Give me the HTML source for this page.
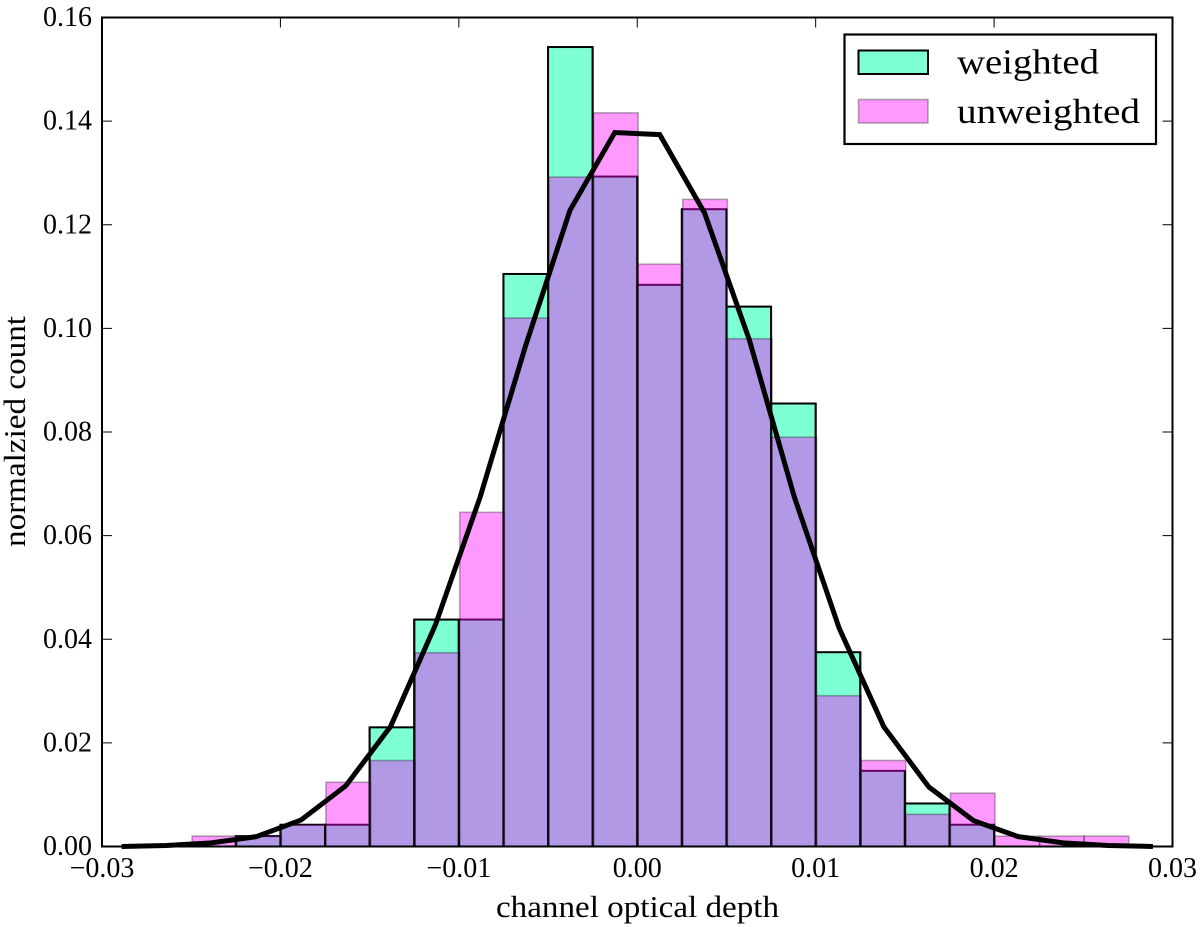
<!DOCTYPE html>
<html>
<head>
<meta charset="utf-8">
<title>Channel optical depth histogram</title>
<style>
html,body{margin:0;padding:0;background:#fff;}
svg{display:block;}
text{font-family:"Liberation Serif",serif;fill:#000;}
</style>
</head>
<body>
<svg id="chart" xmlns="http://www.w3.org/2000/svg" width="1200" height="927" viewBox="0 0 1200 927">
  <rect x="0" y="0" width="1200" height="927" fill="#fff"/>
  <g id="bars-weighted"></g>
  <g id="bars-unweighted"></g>
  <g id="bar-dividers"></g>
  <path id="curve" fill="none" stroke="#000" stroke-width="5" stroke-linejoin="miter"/>
  <g id="ticks"></g>
  <rect x="102" y="17.5" width="1070.5" height="829" fill="none" stroke="#000" stroke-width="2"/>
  <g id="tick-labels"></g>
  <text x="496" y="917" font-size="31" textLength="283" lengthAdjust="spacingAndGlyphs">channel optical depth</text>
  <text transform="translate(25,547) rotate(-90)" x="0" y="0" font-size="31" textLength="231" lengthAdjust="spacingAndGlyphs">normalzied count</text>
  <g>
    <rect x="844.5" y="34.5" width="311.5" height="109.5" fill="#fff" stroke="#000" stroke-width="2.2"/>
    <rect x="858.5" y="50.5" width="69.5" height="23.5" fill="#7fffd4" stroke="#000" stroke-width="2"/>
    <text x="957" y="73.5" font-size="35" textLength="142" lengthAdjust="spacingAndGlyphs">weighted</text>
    <rect x="858.5" y="99.5" width="69.5" height="23.5" fill="#ff00ff" fill-opacity="0.4" stroke="#000" stroke-opacity="0.3" stroke-width="1.6"/>
    <text x="957" y="123" font-size="35" textLength="183" lengthAdjust="spacingAndGlyphs">unweighted</text>
  </g>
</svg>
<script>
const weightedStart = -0.0225;
const unweightedStart = -0.02495;
const binWidth = 0.0025;
const weightedValues = [0.0020,0.0042,0.0042,0.0230,0.0438,0.0438,0.1105,0.1543,0.1293,0.1084,0.1230,0.1042,0.0855,0.0375,0.0146,0.0083,0.0042];
const unweightedValues = [0.0020,0.0020,0.0042,0.0124,0.0166,0.0374,0.0645,0.1020,0.1292,0.1416,0.1124,0.1249,0.0980,0.0790,0.0291,0.0166,0.0062,0.0103,0.0020,0.0020,0.0020];
const curveX = [-0.0289,-0.02639,-0.02387,-0.02136,-0.01885,-0.01634,-0.01382,-0.01131,-0.0088,-0.00628,-0.00377,-0.00126,0.00126,0.00377,0.00628,0.0088,0.01131,0.01382,0.01634,0.01885,0.02136,0.02387,0.02639,0.0289];
const curveY = [0.0000,0.0002,0.0007,0.0019,0.0051,0.0117,0.0232,0.0428,0.0675,0.0964,0.1228,0.1378,0.1374,0.1223,0.0978,0.0675,0.0422,0.0231,0.0115,0.0050,0.0019,0.0007,0.0002,0.0000];
const xTicks = [-0.03,-0.02,-0.01,0,0.01,0.02,0.03];
const yTicks = [0,0.02,0.04,0.06,0.08,0.10,0.12,0.14,0.16];

const NS = 'http://www.w3.org/2000/svg';
function sx(v){ return 637.25 + v * 17841.7; }
function sy(v){ return 846.5 - v * 5181.25; }
function make(tag, attrs, parent){
  const el = document.createElementNS(NS, tag);
  for (const k in attrs) el.setAttribute(k, attrs[k]);
  parent.appendChild(el);
  return el;
}
function fmt(v){
  return (v < 0 ? '\u2212' : '') + Math.abs(v).toFixed(2);
}

const wGroup = document.getElementById('bars-weighted');
weightedValues.forEach(function(v, i){
  const x0 = sx(weightedStart + i * binWidth);
  const x1 = sx(weightedStart + (i + 1) * binWidth);
  const bar = make('rect', {x:x0, y:sy(v), width:x1 - x0, height:sy(0) - sy(v), fill:'#7fffd4', stroke:'#000', 'stroke-width':2}, wGroup);
  
  
});

const uGroup = document.getElementById('bars-unweighted');
unweightedValues.forEach(function(v, i){
  const x0 = sx(unweightedStart + i * binWidth);
  const x1 = sx(unweightedStart + (i + 1) * binWidth);
  const bar = make('rect', {x:x0, y:sy(v), width:x1 - x0, height:sy(0) - sy(v), fill:'#ff00ff', 'fill-opacity':0.4, stroke:'#000', 'stroke-opacity':0.3, 'stroke-width':1.6}, uGroup);
  
  
});

const dGroup = document.getElementById('bar-dividers');
for (let i = 0; i <= weightedValues.length; i++) {
  const left = i > 0 ? weightedValues[i - 1] : 0;
  const right = i < weightedValues.length ? weightedValues[i] : 0;
  const x = sx(weightedStart + i * binWidth);
  const divider = make('line', {x1:x, x2:x, y1:sy(0), y2:sy(Math.max(left, right)), stroke:'#0a0a0a', 'stroke-width':2}, dGroup);
  
  
}

document.getElementById('curve').setAttribute('d', curveX.map(function(x, i){
  return (i ? 'L' : 'M') + sx(x).toFixed(2) + ' ' + sy(curveY[i]).toFixed(2);
}).join(' '));

const tickGroup = document.getElementById('ticks');
const labelGroup = document.getElementById('tick-labels');
xTicks.forEach(function(v){
  const x = sx(v);
  const tickBottom = make('line', {x1:x, x2:x, y1:846.5, y2:836.5, stroke:'#000', 'stroke-width':1}, tickGroup);
  
  
  const tickTop = make('line', {x1:x, x2:x, y1:17.5, y2:27.5, stroke:'#000', 'stroke-width':1}, tickGroup);
  
  
  const label = make('text', {x:x, y:877, 'font-size':28, 'text-anchor':'middle'}, labelGroup);
  
  
  label.textContent = fmt(v);
});
yTicks.forEach(function(v){
  const y = sy(v);
  const tickLeft = make('line', {x1:102, x2:112, y1:y, y2:y, stroke:'#000', 'stroke-width':1}, tickGroup);
  
  
  const tickRight = make('line', {x1:1172.5, x2:1162.5, y1:y, y2:y, stroke:'#000', 'stroke-width':1}, tickGroup);
  
  
  const label = make('text', {x:92, y:y + 8.5, 'font-size':28, 'text-anchor':'end'}, labelGroup);
  
  
  label.textContent = fmt(v);
});
</script>
</body>
</html>
